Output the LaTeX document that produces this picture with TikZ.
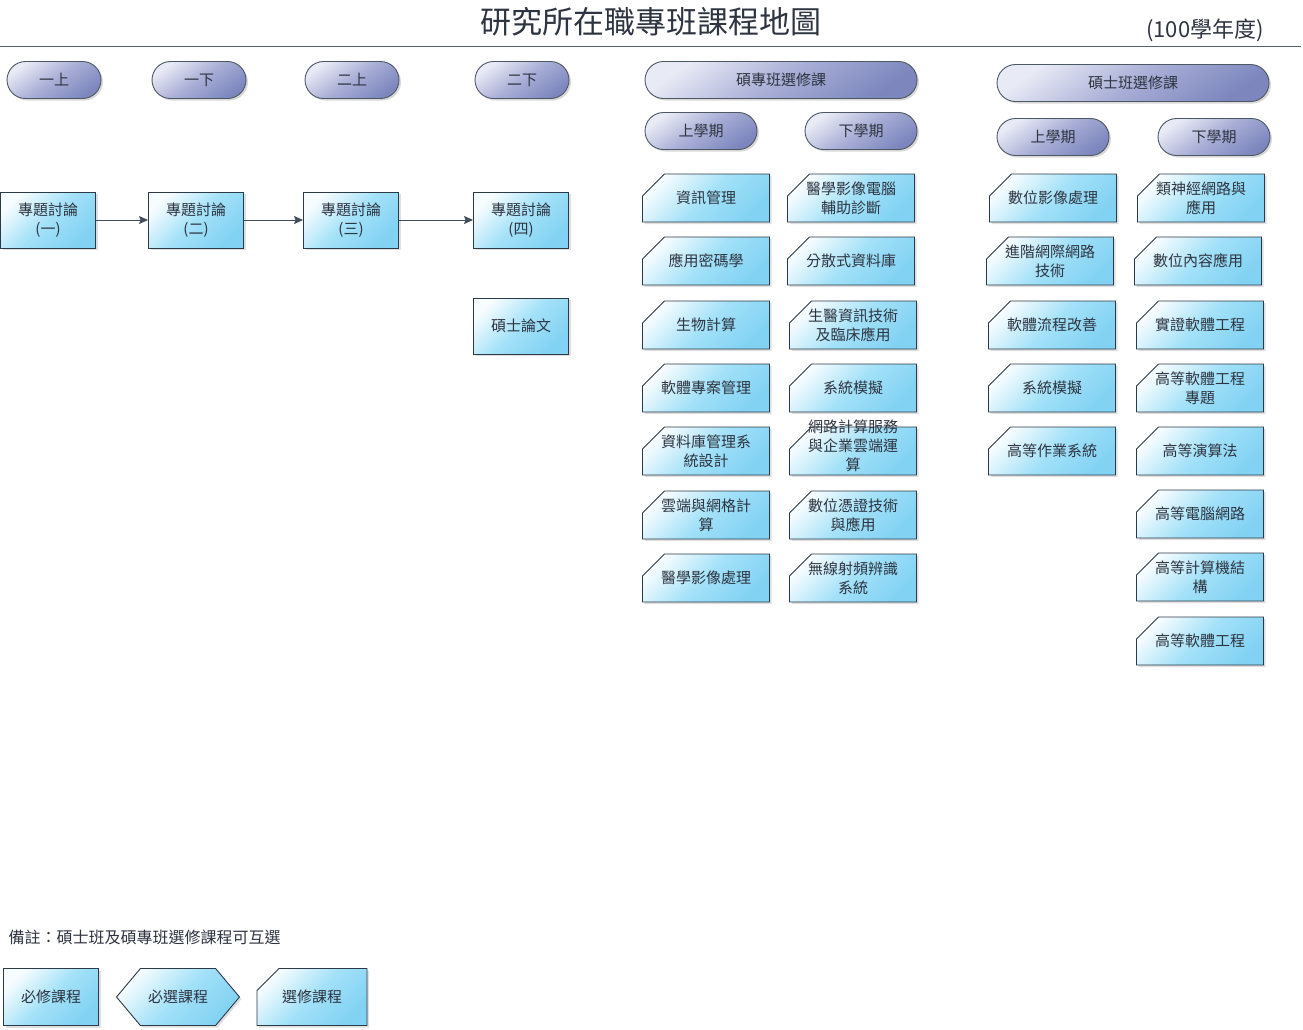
\documentclass[tikz,border=0pt]{standalone}
\usepackage{fontspec}
\newfontfamily\cjk{Noto Sans CJK TC}
\usepackage{xcolor}
\usepackage{tikz}
\usetikzlibrary{arrows.meta,shapes.misc,shapes.symbols,shadows}

\definecolor{pilltop}{HTML}{E8EAF5}
\definecolor{pillmid}{HTML}{A8AED6}
\definecolor{pillbot}{HTML}{7D87BE}
\definecolor{boxtop}{HTML}{F6FCFF}
\definecolor{boxmid}{HTML}{A3E1F8}
\definecolor{boxbot}{HTML}{82D2F3}
\definecolor{edge}{HTML}{2C3A48}
\definecolor{ink}{HTML}{2E3440}

\makeatletter
\pgfdeclareshape{cutrect}{%
  \inheritsavedanchors[from=rectangle]%
  \inheritanchorborder[from=rectangle]%
  \inheritanchor[from=rectangle]{center}%
  \inheritanchor[from=rectangle]{text}%
  \inheritanchor[from=rectangle]{mid}%
  \inheritanchor[from=rectangle]{base}%
  \inheritanchor[from=rectangle]{north}%
  \inheritanchor[from=rectangle]{south}%
  \inheritanchor[from=rectangle]{east}%
  \inheritanchor[from=rectangle]{west}%
  \inheritanchor[from=rectangle]{north east}%
  \inheritanchor[from=rectangle]{north west}%
  \inheritanchor[from=rectangle]{south east}%
  \inheritanchor[from=rectangle]{south west}%
  \backgroundpath{%
    \southwest \pgf@xa=\pgf@x \pgf@ya=\pgf@y
    \northeast \pgf@xb=\pgf@x \pgf@yb=\pgf@y
    \pgfmathsetlength\pgf@xc{\pgfkeysvalueof{/pgf/outer xsep}}%
    \pgfmathsetlength\pgf@yc{\pgfkeysvalueof{/pgf/outer ysep}}%
    \advance\pgf@xa by\pgf@xc \advance\pgf@ya by\pgf@yc
    \advance\pgf@xb by-\pgf@xc \advance\pgf@yb by-\pgf@yc
    \edef\cutL{\the\pgf@xa}\edef\cutB{\the\pgf@ya}%
    \edef\cutR{\the\pgf@xb}\edef\cutT{\the\pgf@yb}%
    \pgfpathmoveto{\pgfqpoint{\cutL}{\cutB}}%
    \pgfpathlineto{\pgfqpoint{\cutR}{\cutB}}%
    \pgfpathlineto{\pgfqpoint{\cutR}{\cutT}}%
    \pgfpathlineto{\pgfpoint{\cutL+22pt}{\cutT}}%
    \pgfpathlineto{\pgfpoint{\cutL}{\cutT-22pt}}%
    \pgfpathclose
  }%
}
\makeatother

\begin{document}
\begin{tikzpicture}[
      x=1pt, y=-1pt,
      font=\cjk\fontsize{15}{19}\selectfont, text=ink,
      term/.style={rounded rectangle, draw=edge!85, line width=0.9pt,
                   top color=pilltop, bottom color=pillbot, middle color=pillmid, shading angle=35,
                   minimum width=94pt, minimum height=37pt, inner sep=0pt,
                   drop shadow={shadow xshift=2pt, shadow yshift=-2pt, fill=black!30, opacity=0.5}},
      core/.style={rectangle, draw=edge, line width=0.9pt,
                   top color=boxtop, bottom color=boxbot, middle color=boxmid, shading angle=45,
                   minimum width=95pt, minimum height=56pt, inner sep=1pt, align=center,
                   drop shadow={shadow xshift=2pt, shadow yshift=-2pt, fill=black!25, opacity=0.5}},
      elective/.style={cutrect, draw=edge, line width=0.9pt,
                   top color=boxtop, bottom color=boxbot, middle color=boxmid, shading angle=45,
                   minimum width=127pt, minimum height=48pt, inner sep=1pt, align=center,
                   drop shadow={shadow xshift=2pt, shadow yshift=-2pt, fill=black!25, opacity=0.5}},
      picked/.style={signal, signal to=west and east, signal pointer angle=100,
                   draw=edge, line width=0.9pt,
                   top color=boxtop, bottom color=boxbot, middle color=boxmid, shading angle=45,
                   minimum width=123pt, minimum height=57pt, inner sep=1pt, align=center,
                   drop shadow={shadow xshift=2pt, shadow yshift=-2pt, fill=black!25, opacity=0.5}},
      >={Stealth[length=9pt, width=8pt, inset=1.5pt]}]

    \useasboundingbox (0,0) rectangle (1303,1029);

    \node (title) at (651,22) {\fontsize{31}{31}\selectfont 研究所在職專班課程地圖};
    \node (year) at (1205,30) {\fontsize{22}{22}\selectfont (100學年度)};
    \draw[edge!80, line width=1pt] (0,46) -- (1301,46);

    \node[term] (t1u) at (54,80) {一上};
    \node[term] (t1d) at (199,80) {一下};
    \node[term] (t2u) at (352,80) {二上};
    \node[term] (t2d) at (522,80) {二下};

    \node[term, minimum width=272pt] (pro) at (781,80) {碩專班選修課};
    \node[term, minimum width=112pt] (pro1) at (701,131) {上學期};
    \node[term, minimum width=112pt] (pro2) at (861,131) {下學期};

    \node[term, minimum width=272pt] (mas) at (1133,83) {碩士班選修課};
    \node[term, minimum width=112pt] (mas1) at (1053,137) {上學期};
    \node[term, minimum width=112pt] (mas2) at (1214,137) {下學期};

    \node[core] (sem1) at (48,220) {專題討論\\(一)};
    \node[core] (sem2) at (196,220) {專題討論\\(二)};
    \node[core] (sem3) at (351,220) {專題討論\\(三)};
    \node[core] (sem4) at (521,220) {專題討論\\(四)};
    \node[core] (thesis) at (521,326) {碩士論文};
    \draw[->, edge!90, line width=0.9pt] (sem1.east) -- (sem2.west);
    \draw[->, edge!90, line width=0.9pt] (sem2.east) -- (sem3.west);
    \draw[->, edge!90, line width=0.9pt] (sem3.east) -- (sem4.west);

    \node[elective] (pa1) at (706,198) {資訊管理};
    \node[elective] (pa2) at (706,261) {應用密碼學};
    \node[elective] (pa3) at (706,325) {生物計算};
    \node[elective] (pa4) at (706,388) {軟體專案管理};
    \node[elective] (pa5) at (706,451) {資料庫管理系\\統設計};
    \node[elective] (pa6) at (706,515) {雲端與網格計\\算};
    \node[elective] (pa7) at (706,578) {醫學影像處理};

    \node[elective] (pb1) at (851,198) {醫學影像電腦\\輔助診斷};
    \node[elective] (pb2) at (851,261) {分散式資料庫};
    \node[elective] (pb3) at (853,325) {生醫資訊技術\\及臨床應用};
    \node[elective] (pb4) at (853,388) {系統模擬};
    \node[elective] (pb5) at (853,451)
      {\smash{\begin{tabular}{@{}c@{}}網路計算服務\\與企業雲端運\\算\end{tabular}}};
    \node[elective] (pb6) at (853,515) {數位憑證技術\\與應用};
    \node[elective] (pb7) at (853,578) {無線射頻辨識\\系統};

    \node[elective] (qa1) at (1053,198) {數位影像處理};
    \node[elective] (qa2) at (1050,261) {進階網際網路\\技術};
    \node[elective] (qa3) at (1052,325) {軟體流程改善};
    \node[elective] (qa4) at (1052,388) {系統模擬};
    \node[elective] (qa5) at (1052,451) {高等作業系統};

    \node[elective] (qb1) at (1201,198) {類神經網路與\\應用};
    \node[elective] (qb2) at (1198,261) {數位內容應用};
    \node[elective] (qb3) at (1200,325) {實證軟體工程};
    \node[elective] (qb4) at (1200,388) {高等軟體工程\\專題};
    \node[elective] (qb5) at (1200,451) {高等演算法};
    \node[elective] (qb6) at (1200,514) {高等電腦網路};
    \node[elective] (qb7) at (1200,577) {高等計算機結\\構};
    \node[elective] (qb8) at (1200,641) {高等軟體工程};

    \node[anchor=west, font=\cjk\fontsize{16}{19}\selectfont] (note) at (5,937)
      {備註：碩士班及碩專班選修課程可互選};
    \node[core, minimum height=57pt] (keyreq) at (51,997) {必修課程};
    \node[picked] (keysel) at (178,997) {必選課程};
    \node[elective, minimum width=110pt, minimum height=57pt] (keyele) at (312,997) {選修課程};
  \end{tikzpicture}
\end{document}
